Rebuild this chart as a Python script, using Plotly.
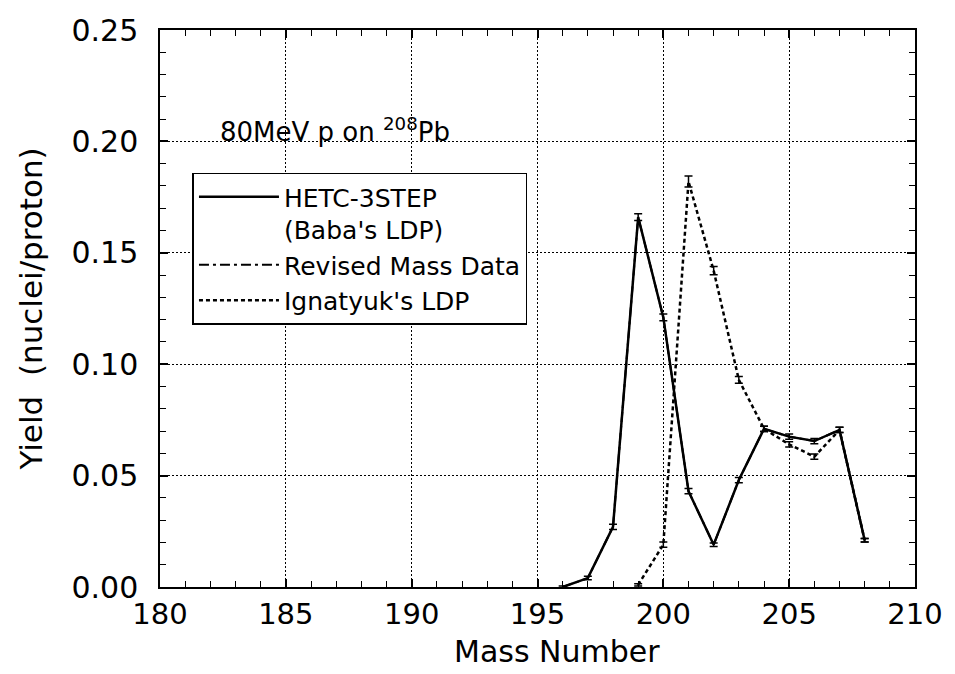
import plotly.graph_objects as go

# Data
mass_hetc = [196, 197, 198, 199, 200, 201, 202, 203, 204, 205, 206, 207, 208]
yield_hetc = [0.000, 0.004, 0.027, 0.166, 0.121, 0.043, 0.019, 0.048, 0.071, 0.0675, 0.0655, 0.0705, 0.021]
err_hetc = [0.0005, 0.0008, 0.0012, 0.0015, 0.0015, 0.0012, 0.0008, 0.0012, 0.0012, 0.0012, 0.0012, 0.0012, 0.0008]

mass_rev = [196, 197, 198, 199, 200, 201, 202, 203, 204, 205, 206, 207, 208]
yield_rev = [0.000, 0.004, 0.027, 0.166, 0.121, 0.043, 0.019, 0.048, 0.071, 0.0675, 0.0655, 0.0705, 0.021]

mass_ign = [199, 200, 201, 202, 203, 204, 205, 206, 207, 208]
yield_ign = [0.001, 0.019, 0.182, 0.142, 0.093, 0.071, 0.064, 0.0585, 0.0705, 0.021]
err_ign = [0.0005, 0.0012, 0.0025, 0.0018, 0.0015, 0.0012, 0.0012, 0.0012, 0.0012, 0.0008]

x_ticks = [180, 185, 190, 195, 200, 205, 210]
y_ticks = [0.00, 0.05, 0.10, 0.15, 0.20, 0.25]

FONT = "DejaVu Sans"

fig = go.Figure()

fig.add_trace(go.Scatter(
    x=mass_ign, y=yield_ign, mode="lines", name="Ignatyuk's LDP",
    line=dict(color="black", width=2.5, dash="4px,3px"),
    error_y=dict(type="data", array=err_ign, color="black", thickness=1.5, width=4),
))
fig.add_trace(go.Scatter(
    x=mass_rev, y=yield_rev, mode="lines", name="Revised Mass Data",
    line=dict(color="black", width=2, dash="10px,4px,3px,4px"),
))
fig.add_trace(go.Scatter(
    x=mass_hetc, y=yield_hetc, mode="lines", name="HETC-3STEP<br>(Baba's LDP)",
    line=dict(color="black", width=2.5),
    error_y=dict(type="data", array=err_hetc, color="black", thickness=1.5, width=4),
))

fig.add_annotation(
    x=0.077, y=0.82, xref="paper", yref="paper", xanchor="left", yanchor="middle",
    text="80MeV p on <sup>208</sup>Pb", showarrow=False,
    font=dict(family=FONT, size=26, color="black"),
)

# x-axis title placed as annotation to match its horizontal position
fig.add_annotation(
    x=0.526, y=-0.115, xref="paper", yref="paper", xanchor="center", yanchor="middle",
    text="Mass Number", showarrow=False,
    font=dict(family=FONT, size=30, color="black"),
)

axis_common = dict(
    showline=True, linecolor="black", linewidth=1.5, mirror="allticks",
    ticks="inside", ticklen=8, tickwidth=1.5, tickcolor="black",
    showgrid=True, gridcolor="black", gridwidth=1, griddash="2px,2px",
    zeroline=False,
)

fig.update_xaxes(
    range=[180, 210], tickvals=x_ticks, ticktext=[str(v) for v in x_ticks],
    tickfont=dict(family=FONT, size=29, color="black"),
    minor=dict(dtick=1, ticks="inside", ticklen=6, tickwidth=1.2, tickcolor="black", showgrid=False),
    **axis_common,
)
fig.update_yaxes(
    range=[0, 0.25], tickvals=y_ticks, ticktext=[f"{v:.2f}" for v in y_ticks],
    title=dict(text="Yield  (nuclei/proton)", font=dict(family=FONT, size=31, color="black"), standoff=20),
    tickfont=dict(family=FONT, size=30, color="black"),
    ticklabelstandoff=14,
    minor=dict(dtick=0.01, ticks="inside", ticklen=6, tickwidth=1.2, tickcolor="black", showgrid=False),
    **axis_common,
)

fig.update_layout(
    width=955, height=674,
    margin=dict(l=160, r=35, t=27, b=87),
    paper_bgcolor="white", plot_bgcolor="white",
    showlegend=True,
    legend=dict(
        x=0.043, y=0.744, xanchor="left", yanchor="top",
        bgcolor="white", bordercolor="black", borderwidth=1.5,
        font=dict(family=FONT, size=25, color="black"),
        traceorder="reversed", itemwidth=80, tracegroupgap=0, valign="top",
    ),
)

fig.write_html("out.html")
